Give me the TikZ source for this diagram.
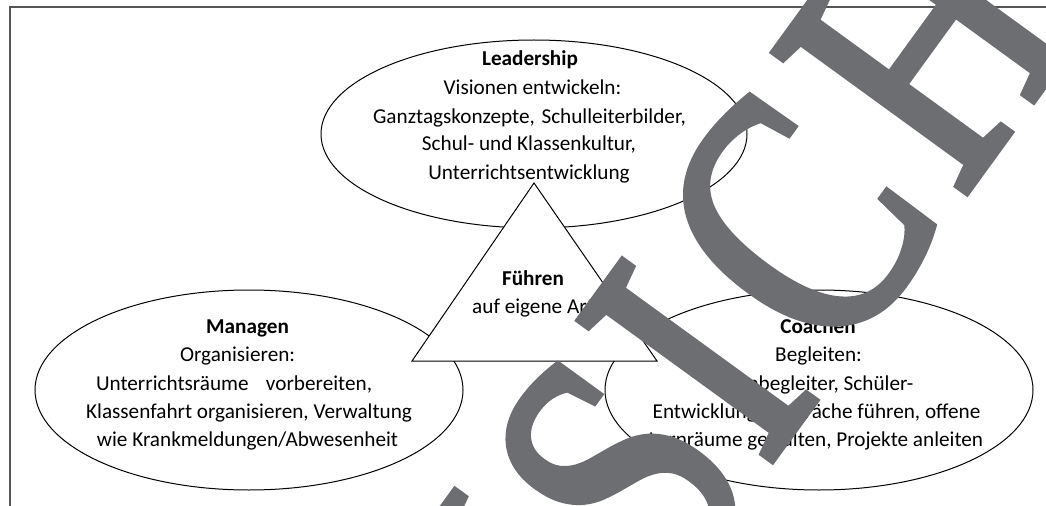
\documentclass[tikz,border=0pt]{standalone}
\usepackage{fontspec}
\setmainfont{Carlito}
\newfontfamily\wmfont[FakeBold=2.5]{Liberation Serif}
\usetikzlibrary{shapes.geometric}
\definecolor{wmgray}{HTML}{6D6E71}
\definecolor{framegray}{HTML}{555555}
\tikzset{
  bubble/.style={ellipse, draw=black, line width=0.75pt, fill=white, inner sep=0pt},
  txt/.style={font=\fontsize{15.9}{18}\selectfont, inner sep=0pt, anchor=base},
  ttl/.style={txt, font=\fontsize{15.9}{18}\selectfont\bfseries},
  wm/.style={font=\wmfont\fontsize{271}{271}\selectfont, text=wmgray, rotate=54, xscale=0.78, anchor=base, inner sep=0pt},
}
\begin{document}
\begin{tikzpicture}[x=0.75pt,y=-0.75pt]
\useasboundingbox[fill=white] (0,0) rectangle (1046,506);
% frame
\coordinate (fBL) at (10,507);
\coordinate (fTL) at (10,7);
\coordinate (fTR) at (1047,7);
\draw[framegray, line width=1.2pt] (fBL) -- (fTL) -- (fTR);
% ellipses
\node[bubble, minimum width=319.5pt, minimum height=141pt] (lead) at (534,134) {};
\node[bubble, minimum width=321pt, minimum height=150pt] (man) at (249,390) {};
\node[bubble, minimum width=321pt, minimum height=150pt] (coach) at (819,390) {};
% triangle
\coordinate (tA) at (534,183);
\coordinate (tB) at (412,361);
\coordinate (tC) at (657,361);
\draw[line width=0.75pt, fill=white] (tA) -- (tB) -- (tC) -- cycle;
% Leadership text
\node[ttl] (l1) at (530,66) {Leadership};
\node[txt] (l2) at (532.5,95) {Visionen entwickeln:};
\node[txt] (l3) at (529.5,123.3) {Ganztagskonzepte,\hspace{5pt}Schulleiterbilder,};
\node[txt] (l4) at (529,151) {Schul- und Klassenkultur,};
\node[txt] (l5) at (529,179.3) {Unterrichtsentwicklung};
% Fuehren text
\node[ttl] (f1) at (533,285) {Führen};
\node[txt] (f2) at (533,313.3) {auf eigene Art};
% Managen text
\node[ttl] (m1) at (247.5,333.3) {Managen};
\node[txt] (m2) at (237.6,361.6) {Organisieren:};
\node[txt] (m3) at (234,390) {Unterrichtsräume\hspace{13pt}vorbereiten,};
\node[txt] (m4) at (249,418.3) {Klassenfahrt organisieren, Verwaltung};
\node[txt] (m5) at (247.5,446.6) {wie Krankmeldungen/Abwesenheit};
% Coachen text
\node[ttl] (c1) at (818,333.3) {Coachen};
\node[txt] (c2) at (818.5,361.6) {Begleiten:};
\node[txt] (c3) at (817,390) {Lernbegleiter, Schüler-};
\node[txt] (c4) at (816.5,418.3) {Entwicklungsgespräche führen, offene};
\node[txt] (c5) at (816,446.6) {Lernräume gestalten, Projekte anleiten};
% watermark
\begin{scope}
\clip (0,0) rectangle (1046,506);
\node[wm] (wA) at (456.2,893.6) {A};
\node[wm] (wN) at (591.4,707.5) {N};
\node[wm] (wS) at (716,543) {S};
\node[wm] (wI) at (793,430) {I};
\node[wm] (wC) at (892.9,292.5) {C};
\node[wm] (wH) at (1021,116) {H};
\node[wm] (wT) at (1150.4,-61.9) {T};
\end{scope}
\end{tikzpicture}
\end{document}
